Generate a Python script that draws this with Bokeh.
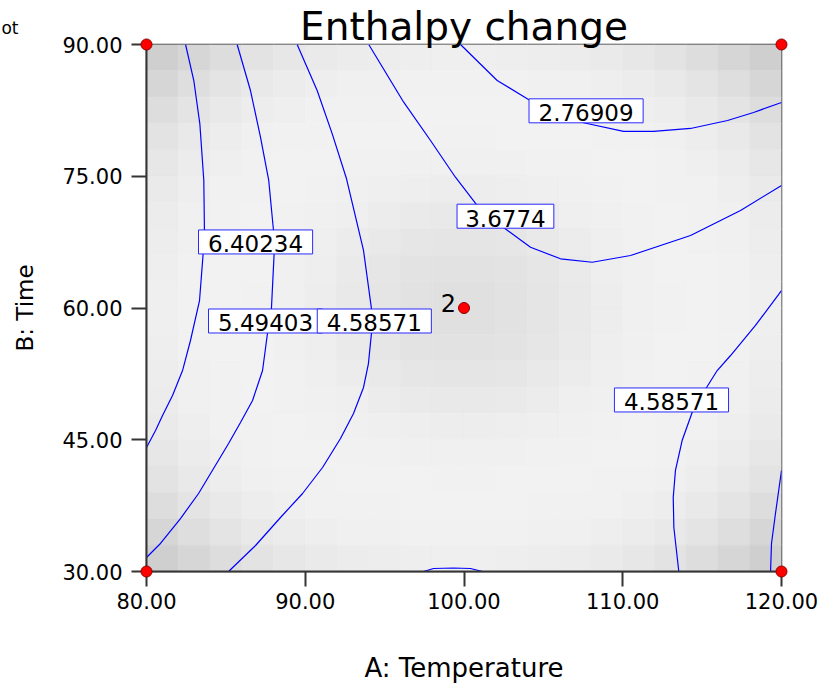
from bokeh.plotting import figure
from bokeh.models import Range1d, FixedTicker, PrintfTickFormatter
from bokeh.embed import file_html
from bokeh.resources import INLINE
from bokeh.core.properties import value

# ---------------- data ----------------
title_text = "Enthalpy change"
corner_text = "ot"
x_label = "A: Temperature"
y_label = "B: Time"
x_ticks = [80, 90, 100, 110, 120]
y_ticks = [30, 45, 60, 75, 90]
x_lo, x_hi = 80.0, 120.0
y_lo, y_hi = 30.0, 90.0

# contour lines (A: Temperature, B: Time)
c1_x = [82.46, 82.98, 83.36, 83.61, 83.65, 83.57, 83.34, 82.77, 82.27, 81.64, 81.01, 80.57, 80.0]
c1_y = [90.0, 85.90, 80.97, 74.52, 68.82, 66.21, 60.85, 56.30, 52.88, 50.04, 47.76, 46.05, 44.12]
c2_x = [85.71, 86.55, 87.18, 87.70, 88.00, 88.04, 87.87, 87.62, 87.31, 86.68, 85.92, 85.17, 83.28, 82.14, 80.88, 80.0]
c2_y = [90.0, 84.76, 79.45, 74.52, 68.82, 66.21, 59.94, 57.10, 52.88, 49.47, 46.96, 44.57, 38.88, 36.03, 33.19, 31.59]
c3_x = [89.49, 90.75, 91.70, 92.60, 93.67, 94.17, 94.17, 93.98, 93.67, 93.04, 92.22, 91.09, 89.83, 88.44, 86.87, 85.17]
c3_y = [90.0, 84.76, 79.83, 74.71, 66.55, 59.94, 57.10, 53.68, 50.95, 47.99, 45.14, 41.84, 38.88, 36.15, 32.96, 30.0]
c4_x = [94.0, 96.20, 97.89, 99.46, 100.79, 102.51, 104.19, 106.08, 108.08, 110.49, 114.27, 117.42, 120.0]
c4_y = [90.0, 83.43, 79.07, 74.89, 71.78, 69.13, 66.92, 65.60, 65.21, 65.98, 68.25, 71.10, 73.95]
c5_x = [99.78, 102.09, 104.06, 107.46, 110.05, 111.94, 114.27, 116.60, 118.24, 120.0]
c5_y = [90.0, 85.90, 83.74, 81.12, 80.10, 80.10, 80.44, 81.35, 82.26, 83.40]
c6_x = [120.0, 118.36, 116.79, 115.95, 115.28, 114.37, 113.74, 113.32, 113.18, 113.22, 113.53]
c6_y = [61.99, 58.01, 54.59, 52.88, 50.95, 48.10, 44.91, 41.50, 38.43, 35.01, 30.0]
c7_x = [120.0, 119.62, 119.37, 119.31]
c7_y = [41.50, 36.60, 33.19, 30.0]
c8_x = [97.45, 98.08, 99.34, 100.41, 101.17]
c8_y = [30.0, 30.34, 30.40, 30.34, 30.0]

label_text = ["6.40234", "5.49403", "4.58571", "3.6774", "2.76909", "4.58571"]
label_x = [86.87, 87.50, 94.35, 102.61, 107.69, 113.07]
label_y = [67.52, 58.52, 58.52, 70.45, 82.45, 49.53]

design_x = [80, 80, 120, 120, 100]
design_y = [30, 90, 30, 90, 60]
design_count = ["", "", "", "", "2"]

# grey level of the standard-error shading, top-left quarter (rows from top, cols from left)
shade_quadrant = [
    [207, 214, 221, 227, 231, 234, 236, 237, 238, 239],
    [214, 222, 228, 233, 236, 238, 240, 240, 241, 241],
    [221, 228, 233, 237, 239, 241, 241, 241, 242, 242],
    [227, 233, 237, 240, 241, 241, 242, 242, 242, 241],
    [231, 236, 239, 241, 242, 242, 241, 241, 240, 240],
    [234, 238, 241, 241, 242, 241, 240, 239, 238, 237],
    [236, 240, 241, 242, 241, 240, 239, 236, 234, 233],
    [237, 240, 241, 242, 241, 239, 236, 233, 230, 229],
    [238, 241, 242, 242, 240, 238, 234, 230, 227, 226],
    [239, 241, 242, 241, 240, 237, 233, 229, 226, 224],
]

# ---------------- layout ----------------
FONT = "DejaVu Sans"
CANVAS_W, CANVAS_H = 830, 684
F_LEFT, F_RIGHT, F_TOP, F_BOTTOM = 146, 781, 44, 571
x_per_px = (x_hi - x_lo) / (F_RIGHT - F_LEFT)
y_per_px = (y_hi - y_lo) / (F_BOTTOM - F_TOP)

p = figure(frame_width=F_RIGHT - F_LEFT, frame_height=F_BOTTOM - F_TOP,
           x_range=Range1d(x_lo, x_hi), y_range=Range1d(y_lo, y_hi),
           min_border_left=F_LEFT, min_border_right=CANVAS_W - F_RIGHT,
           min_border_top=F_TOP, min_border_bottom=CANVAS_H - F_BOTTOM,
           output_backend="svg", toolbar_location=None, tools="")
AX_COL = "#353535"
p.outline_line_color = AX_COL
p.outline_line_width = 1.5
p.xgrid.visible = False
p.ygrid.visible = False
p.background_fill_color = "white"
p.border_fill_color = "white"

# shading cells
n = 2 * len(shade_quadrant)
cw = (x_hi - x_lo) / n
ch = (y_hi - y_lo) / n
ql, qr_, qt, qb, qc = [], [], [], [], []
for r in range(n):
    rr = r if r < n // 2 else n - 1 - r
    for c in range(n):
        cc = c if c < n // 2 else n - 1 - c
        g = shade_quadrant[rr][cc]
        ql.append(x_lo + c * cw)
        qr_.append(x_lo + (c + 1) * cw)
        qt.append(y_hi - r * ch)
        qb.append(y_hi - (r + 1) * ch)
        qc.append("#%02x%02x%02x" % (g, g, g))
p.quad(left=ql, right=qr_, top=qt, bottom=qb, fill_color=qc, line_color=qc, line_width=0.6)

# contours
xs = [c1_x, c2_x, c3_x, c4_x, c5_x, c6_x, c7_x, c8_x]
ys = [c1_y, c2_y, c3_y, c4_y, c5_y, c6_y, c7_y, c8_y]
p.multi_line(xs=xs, ys=ys, line_color="#0000ff", line_width=1.2)

# contour labels
box_w = [17.3 * len(t) - 7 for t in label_text]
p.rect(x=label_x, y=label_y, width=box_w, height=24, width_units="screen", height_units="screen",
       fill_color="white", line_color="#2a2aff", line_width=1)
p.text(x=label_x, y=label_y, text=label_text, text_align="center", text_baseline="middle",
       y_offset=2, text_font=value(FONT), text_font_size="23px", text_color="black")

# design points
p.scatter(x=design_x, y=design_y, size=11, fill_color="#ff0000", line_color="#8b0000",
          line_width=1, level="overlay")
p.text(x=design_x, y=design_y, text=design_count, text_align="right", text_baseline="middle",
       x_offset=-8, y_offset=-5, text_font=value(FONT), text_font_size="24px", text_color="black",
       level="overlay")

# axes
xa = p.xaxis[0]
ya = p.yaxis[0]
xa.ticker = FixedTicker(ticks=x_ticks)
ya.ticker = FixedTicker(ticks=y_ticks)
ya.axis_label = y_label
for ax in (xa, ya):
    ax.formatter = PrintfTickFormatter(format="%.2f")
    ax.axis_line_color = AX_COL
    ax.axis_line_width = 2
    ax.major_tick_line_color = AX_COL
    ax.major_tick_line_width = 2
    ax.major_tick_out = 15
    ax.major_tick_in = 0
    ax.minor_tick_line_color = None
    ax.major_label_text_font = FONT
    ax.major_label_text_font_size = "21px"
    ax.major_label_text_color = "black"
    ax.axis_label_text_font = FONT
    ax.axis_label_text_font_style = "normal"
    ax.axis_label_text_color = "black"
xa.major_label_standoff = 6
ya.major_label_standoff = 9
ya.axis_label_text_font_size = "23px"
ya.axis_label_standoff = 21

# title, x-axis title and corner text, placed from the frame edges (drawn unclipped on the overlay level)
mid_x = (x_lo + x_hi) / 2
p.text(x=[mid_x], y=[y_hi + 18 * y_per_px], text=[title_text], text_align="center",
       text_baseline="middle", text_font=value(FONT), text_font_size="39px",
       text_color="black", level="overlay")
p.text(x=[mid_x], y=[y_lo - 96 * y_per_px], text=[x_label], text_align="center",
       text_baseline="middle", text_font=value(FONT), text_font_size="26px",
       text_color="black", level="overlay")
p.text(x=[x_lo - 128 * x_per_px], y=[y_hi + 17 * y_per_px], text=[corner_text], text_align="right",
       text_baseline="middle", text_font=value(FONT), text_font_size="17px",
       text_color="black", level="overlay")

open("out.html", "w").write(file_html(p, INLINE))
